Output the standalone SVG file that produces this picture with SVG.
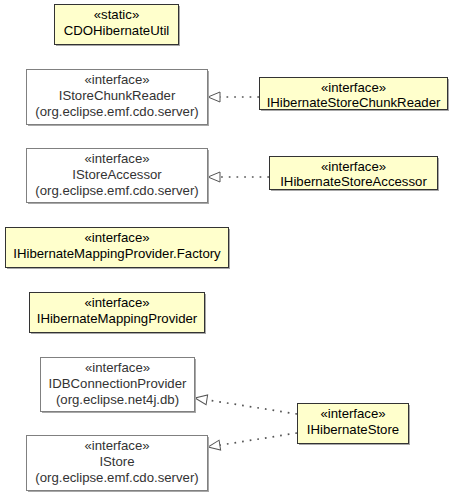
<svg xmlns="http://www.w3.org/2000/svg" width="453" height="495" viewBox="0 0 453 495">
<defs>
<style>
text{font-family:"Liberation Sans",Arial,sans-serif;font-size:13.2px;text-anchor:middle;}
.loc rect.b{fill:#ffffcc;stroke:#333;stroke-width:1;}
.ext rect.b{fill:#ffffff;stroke:#808080;stroke-width:1;}
rect.s{fill:#a8a8a8;}
.loc text{fill:#000;}
.ext text{fill:#333;}
.dep{fill:none;stroke:#555;stroke-width:1.7;stroke-dasharray:1.7,6;}
</style>
<marker id="tri" viewBox="0 0 14 12" refX="13" refY="6" markerUnits="userSpaceOnUse" markerWidth="14" markerHeight="12" orient="auto">
<path d="M13,6 L1,1 L1,11 Z" fill="#fff" stroke="#555" stroke-width="1"/>
</marker>
</defs>
<g id="connectors">
<path class="dep" d="M259,97 L208,97" marker-end="url(#tri)"/>
<path class="dep" d="M269,177 L208,177" marker-end="url(#tri)"/>
<path class="dep" d="M297,414 L195,398" marker-end="url(#tri)"/>
<path class="dep" d="M297,433 L208,447" marker-end="url(#tri)"/>
</g>
<g id="CDOHibernateUtil" class="loc">
<rect class="s" x="56" y="6" width="124" height="40"/>
<rect class="b" x="54.5" y="4.5" width="124" height="40"/>
<text x="116.5" y="19">«static»</text>
<text x="116.5" y="35">CDOHibernateUtil</text>
</g>
<g id="IStoreChunkReader" class="ext">
<rect class="s" x="28" y="71" width="181" height="55"/>
<rect class="b" x="26.5" y="69.5" width="181" height="55"/>
<text x="117" y="84">«interface»</text>
<text x="117" y="100">IStoreChunkReader</text>
<text x="117" y="116">(org.eclipse.emf.cdo.server)</text>
</g>
<g id="IHibernateStoreChunkReader" class="loc">
<rect class="s" x="261" y="79" width="188" height="32"/>
<rect class="b" x="259.5" y="77.5" width="188" height="32"/>
<text x="353.5" y="92">«interface»</text>
<text x="353.5" y="107">IHibernateStoreChunkReader</text>
</g>
<g id="IStoreAccessor" class="ext">
<rect class="s" x="28" y="150" width="181" height="54"/>
<rect class="b" x="26.5" y="148.5" width="181" height="54"/>
<text x="117" y="163">«interface»</text>
<text x="117" y="179">IStoreAccessor</text>
<text x="117" y="195">(org.eclipse.emf.cdo.server)</text>
</g>
<g id="IHibernateStoreAccessor" class="loc">
<rect class="s" x="271" y="158" width="168" height="33"/>
<rect class="b" x="269.5" y="156.5" width="168" height="33"/>
<text x="353.5" y="171">«interface»</text>
<text x="353.5" y="186">IHibernateStoreAccessor</text>
</g>
<g id="IHibernateMappingProvider.Factory" class="loc">
<rect class="s" x="7" y="229" width="223" height="40"/>
<rect class="b" x="5.5" y="227.5" width="223" height="40"/>
<text x="117" y="242">«interface»</text>
<text x="117" y="258">IHibernateMappingProvider.Factory</text>
</g>
<g id="IHibernateMappingProvider" class="loc">
<rect class="s" x="31" y="294" width="175" height="40"/>
<rect class="b" x="29.5" y="292.5" width="175" height="40"/>
<text x="117" y="307">«interface»</text>
<text x="117" y="323">IHibernateMappingProvider</text>
</g>
<g id="IDBConnectionProvider" class="ext">
<rect class="s" x="42" y="359" width="154" height="54"/>
<rect class="b" x="40.5" y="357.5" width="154" height="54"/>
<text x="117.5" y="372">«interface»</text>
<text x="117.5" y="388">IDBConnectionProvider</text>
<text x="117.5" y="404">(org.eclipse.net4j.db)</text>
</g>
<g id="IStore" class="ext">
<rect class="s" x="28" y="437" width="181" height="55"/>
<rect class="b" x="26.5" y="435.5" width="181" height="55"/>
<text x="117" y="450">«interface»</text>
<text x="117" y="466">IStore</text>
<text x="117" y="482">(org.eclipse.emf.cdo.server)</text>
</g>
<g id="IHibernateStore" class="loc">
<rect class="s" x="299" y="405" width="111" height="40"/>
<rect class="b" x="297.5" y="403.5" width="111" height="40"/>
<text x="353" y="418">«interface»</text>
<text x="353" y="434">IHibernateStore</text>
</g>
</svg>
